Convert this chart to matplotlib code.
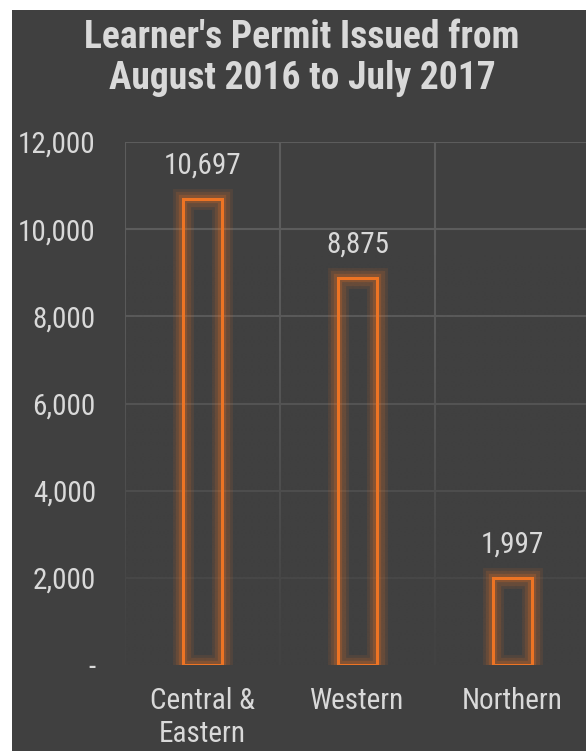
import matplotlib
matplotlib.use("Agg")
import matplotlib.pyplot as plt
import matplotlib.patheffects as pe
from matplotlib import font_manager
import numpy as np

categories = ["Central &\nEastern", "Western", "Northern"]
values = [10697, 8875, 1997]
value_labels = ["10,697", "8,875", "1,997"]
yticks = [0, 2000, 4000, 6000, 8000, 10000, 12000]
ytick_labels = ["-", "2,000", "4,000", "6,000", "8,000", "10,000", "12,000"]
title = "Learner's Permit Issued from\nAugust 2016 to July 2017"

names = {f.name for f in font_manager.fontManager.ttflist}
fam = "Roboto Condensed" if "Roboto Condensed" in names else "Liberation Sans"
plt.rcParams["font.family"] = [fam, "DejaVu Sans"]

BG = "#404040"
TXT = "#d9d9d9"
ORANGE = "#ED7424"
GRID = "#5c5c5c"

W, H = 586, 751
fig = plt.figure(figsize=(W / 100, H / 100), dpi=100)
fig.patch.set_facecolor("white")

bg = fig.add_axes([12 / W, 0, 1 - 12 / W, (H - 10) / H], zorder=-10)
bg.set_facecolor(BG)
bg.set_axis_off()
bg.add_patch(plt.Rectangle((0, 0), 1, 1, transform=bg.transAxes, facecolor=BG, edgecolor="none"))

left = 125 / W
right = 590 / W
bottom = (H - 665) / H
top = (H - 142) / H
ax = fig.add_axes([left, bottom, right - left, top - bottom], zorder=1)
ax.set_facecolor("none")

# grid
for y in yticks[1:]:
    ax.axhline(y, color=GRID, lw=1.5, zorder=1)
for x in [-0.5, 0.5, 1.5, 2.5]:
    ax.axvline(x, color=GRID, lw=1.5, zorder=1)

# fade overlay for grid toward the bottom
grad = np.linspace(1, 0, 256).reshape(-1, 1) ** 1.2
rgba = np.zeros((256, 1, 4))
rgba[..., 0] = 0x40 / 255
rgba[..., 1] = 0x40 / 255
rgba[..., 2] = 0x40 / 255
rgba[..., 3] = np.clip(grad, 0, 0.92)
ax.imshow(rgba, extent=[-0.6, 2.6, -100, 9500], aspect="auto", origin="lower",
          zorder=1.5, interpolation="bilinear")
ax.set_xlim(-0.5, 2.5)
ax.set_ylim(0, 12000)

xs = np.arange(len(categories))
glow = [pe.Stroke(linewidth=15, foreground=ORANGE, alpha=0.10),
        pe.Stroke(linewidth=11, foreground=ORANGE, alpha=0.14),
        pe.Stroke(linewidth=6, foreground=ORANGE, alpha=0.22),
        pe.Normal()]
bars = ax.bar(xs, values, width=0.25, facecolor="none", edgecolor=ORANGE,
              linewidth=2.2, zorder=3)
for b in bars:
    b.set_path_effects(glow)

for x, v, lab in zip(xs, values, value_labels):
    ax.annotate(lab, (x, v), xytext=(0, 14), textcoords="offset points",
                ha="center", va="bottom", color=TXT, fontsize=21, zorder=4)

ax.set_yticks(yticks)
ax.set_yticklabels(ytick_labels)
ax.set_xticks(xs)
ax.set_xticklabels(categories)
ax.tick_params(axis="both", length=0, colors=TXT, labelsize=21)
ax.tick_params(axis="y", pad=21)
ax.tick_params(axis="x", pad=16)
for lbl in ax.get_xticklabels():
    lbl.set_linespacing(1.2)
for s in ax.spines.values():
    s.set_visible(False)

fig.text(302 / W, 1 - 58 / H, title, ha="center", va="center", color=TXT,
         fontsize=27, fontweight="bold", linespacing=1.12)

fig.savefig("out.png", dpi=100, facecolor="white")
